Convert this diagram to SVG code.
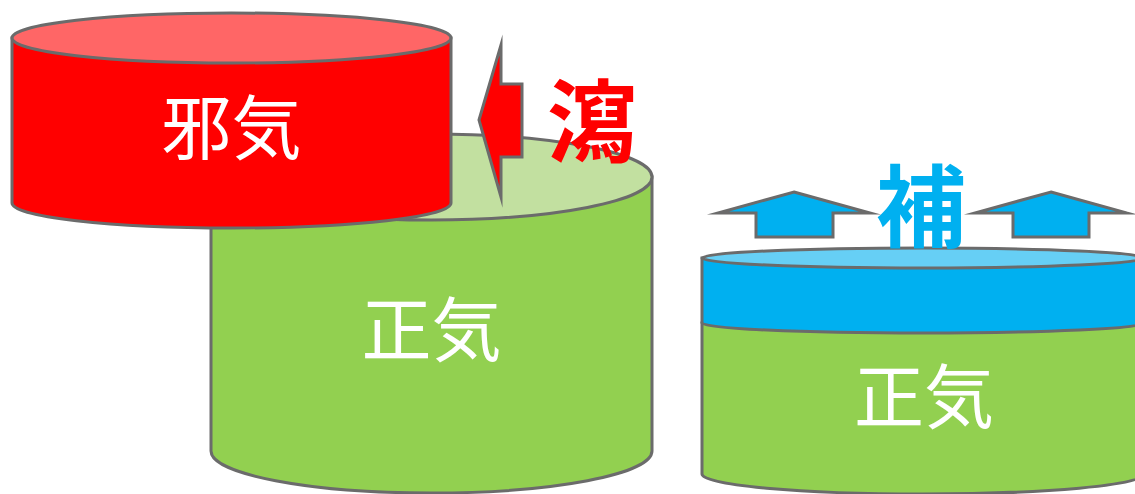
<svg xmlns="http://www.w3.org/2000/svg" width="1135" height="494" viewBox="0 0 1135 494">
<style>
.st{stroke:#6b6b6b;stroke-width:3;stroke-linejoin:miter;stroke-miterlimit:10}
.lbl{font-family:"Noto Sans CJK JP","Noto Sans CJK SC",sans-serif;fill:#fff;font-size:70px;text-anchor:middle}
.big{font-family:"Noto Sans CJK JP","Noto Sans CJK SC",sans-serif;font-weight:bold;font-size:90px;text-anchor:middle}
</style>
<rect width="1135" height="494" fill="#fff"/>
<g id="zhengqi-left">
<path class="st" d="M211,177 L211,451 A220.5,42 0 0 0 652,451 L652,177 Z" fill="#92d050"/>
<ellipse class="st" cx="431.5" cy="177" rx="220.5" ry="43" fill="#c2e0a0"/>
<text class="lbl" x="431.5" y="356">正気</text>
</g>
<g id="xieqi">
<path class="st" d="M12,38 L12,203 A219.5,25 0 0 0 451,203 L451,38 Z" fill="#ff0000"/>
<ellipse class="st" cx="231.5" cy="38" rx="219.5" ry="25" fill="#ff6666"/>
<text class="lbl" x="231.5" y="154">邪気</text>
</g>
<g id="zhengqi-right">
<path class="st" d="M702,323 L702,474 A221,20 0 0 0 1144,474 L1144,323 Z" fill="#92d050"/>
<path class="st" d="M702,258 L702,323 A221,10 0 0 0 1144,323 L1144,258 Z" fill="#00b0f0"/>
<ellipse class="st" cx="923" cy="258" rx="221" ry="10" fill="#66cff5"/>
<text class="lbl" x="924" y="423">正気</text>
</g>
<g id="connectors">
<polygon class="st" points="479,120 501,45 501,84 522,84 522,157 501,157 501,197" fill="#ff0000"/>
<polygon class="st" points="794,192 870,213 833,213 833,237 756,237 756,213 718,213" fill="#00b0f0"/>
<polygon class="st" points="1051,192 1127,213 1089,213 1089,237 1013,237 1013,213 975,213" fill="#00b0f0"/>
</g>
<g id="labels">
<text class="big" x="592" y="155" fill="#ff0000">瀉</text>
<text class="big" x="921" y="240" fill="#00b0f0">補</text>
</g>
</svg>
